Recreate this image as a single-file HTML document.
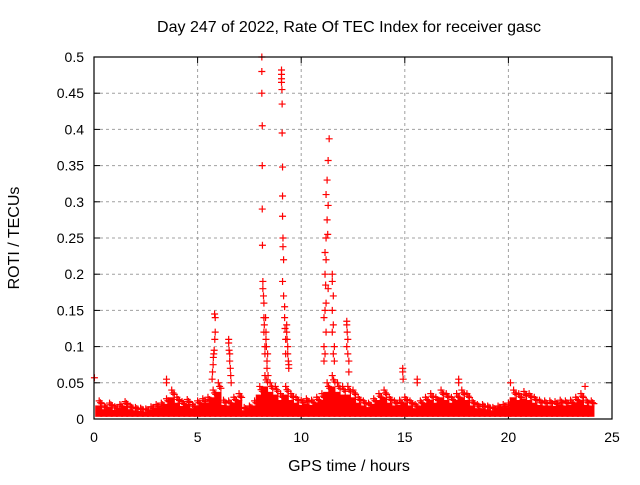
<!DOCTYPE html>
<html><head><meta charset="utf-8"><style>
html,body{margin:0;padding:0;background:#fff;}
svg text{font-family:"Liberation Sans",sans-serif;font-size:14px;fill:#000;}
svg text.big{font-size:16px;}
</style></head><body>
<svg id="chart" width="640" height="480">
<text class="big" x="349" y="32" text-anchor="middle">Day 247 of 2022, Rate Of TEC Index for receiver gasc</text>
<text class="big" x="349" y="471" text-anchor="middle">GPS time / hours</text>
<text class="big" x="19" y="238" text-anchor="middle" transform="rotate(-90 19 238)">ROTI / TECUs</text>
<g id="grid"></g><g id="ticks"></g><g id="marks"></g>
<rect x="94" y="57" width="518" height="362" fill="none" stroke="#000" stroke-width="1.2"/>
</svg>
<script>
const xTicks=[0,5,10,15,20,25];
const yTicks=[0,0.05,0.1,0.15,0.2,0.25,0.3,0.35,0.4,0.45,0.5];
const yTickLabels=["0","0.05","0.1","0.15","0.2","0.25","0.3","0.35","0.4","0.45","0.5"];
const bandStart=0.25, bandStep=0.25;
const bandMax=[.025,.018,.022,.017,.02,.024,.018,.016,.015,.014,.017,.02,.022,.028,.04,.03,.024,.027,.02,.025,.028,.03,.04,.05,.026,.025,.03,.035,.016,.018,.025,.045,.06,.05,.045,.035,.045,.035,.03,.026,.028,.026,.03,.035,.05,.06,.05,.045,.045,.04,.03,.025,.022,.028,.035,.04,.03,.025,.026,.03,.025,.02,.025,.03,.035,.03,.04,.035,.03,.035,.04,.035,.025,.02,.02,.018,.016,.018,.02,.022,.04,.035,.038,.035,.03,.026,.025,.025,.024,.026,.025,.026,.03,.035,.026,.025];
const spikeTimes=[0.02,3.5,3.5,5.82,5.85,5.85,5.83,5.8,5.78,5.76,5.75,5.72,5.7,6.5,6.5,6.52,6.55,6.55,6.58,6.6,6.62,
8.1,8.1,8.1,8.12,8.12,8.12,8.13,8.15,8.15,8.18,8.2,8.2,8.22,8.2,8.25,8.25,8.28,8.3,8.3,8.32,8.35,8.35,8.38,8.4,
9.05,9.05,9.05,9.05,9.07,9.08,9.08,9.1,9.1,9.1,9.12,9.12,9.15,9.1,9.15,9.2,9.2,9.22,9.25,9.25,9.3,9.3,9.32,9.35,9.35,9.38,9.4,9.4,
11.35,11.3,11.25,11.2,11.3,11.25,11.28,11.2,11.15,11.2,11.15,11.18,11.3,11.2,11.15,11.1,11.2,11.1,11.15,11.1,
11.5,11.5,11.55,11.5,11.55,11.5,11.6,11.55,11.6,12.2,12.2,12.22,12.25,12.2,12.25,12.3,12.3,14.9,14.9,14.92,15.6,15.6,17.6,17.6,20.1,23.7];
const spikeValues=[0.057,0.055,0.05,0.145,0.14,0.12,0.11,0.095,0.09,0.085,0.075,0.065,0.055,0.11,0.105,0.095,0.09,0.08,0.07,0.06,0.05,
0.5,0.48,0.45,0.405,0.35,0.29,0.24,0.19,0.18,0.17,0.16,0.14,0.13,0.12,0.1,0.09,0.14,0.12,0.11,0.1,0.08,0.07,0.09,0.06,
0.482,0.476,0.47,0.465,0.455,0.435,0.395,0.348,0.308,0.28,0.25,0.238,0.22,0.19,0.17,0.155,0.14,0.125,0.11,0.09,0.13,0.12,0.11,0.1,0.09,0.08,0.07,0.075,
0.387,0.357,0.33,0.31,0.295,0.275,0.255,0.25,0.23,0.22,0.2,0.185,0.18,0.16,0.15,0.14,0.12,0.1,0.09,0.08,
0.2,0.19,0.17,0.15,0.13,0.12,0.1,0.09,0.08,0.135,0.13,0.12,0.11,0.1,0.09,0.08,0.065,0.07,0.065,0.055,0.055,0.05,0.055,0.05,0.05,0.045];
const X0=94,X1=612,Y0=419,Y1=57;
const xs=t=>X0+(t/25)*(X1-X0);
const ys=v=>Y0-(v/0.5)*(Y0-Y1);
const NS="http://www.w3.org/2000/svg";
function mk(tag,parent,attrs){const e=document.createElementNS(NS,tag);for(const k in attrs)e.setAttribute(k,attrs[k]);parent.appendChild(e);return e;}
const grid=document.getElementById('grid'),ticks=document.getElementById('ticks'),marks=document.getElementById('marks');
xTicks.forEach(t=>{const x=xs(t);
 if(t>0&&t<25){const g=mk('line',grid,{x1:x,x2:x,y1:Y1,y2:Y0,stroke:'#a0a0a0','stroke-dasharray':'3,3'});
 
 }
 const tk=mk('line',ticks,{x1:x,x2:x,y1:Y0,y2:Y0-6,stroke:'#000'});
 
 
 const tk2=mk('line',ticks,{x1:x,x2:x,y1:Y1,y2:Y1+6,stroke:'#000'});
 
 
 const l=mk('text',ticks,{x:x,y:442,'text-anchor':'middle'});l.textContent=String(t);
 
 });
yTicks.forEach((v,i)=>{const y=ys(v);
 if(i>0&&i<yTicks.length-1){const g=mk('line',grid,{x1:X0,x2:X1,y1:y,y2:y,stroke:'#a0a0a0','stroke-dasharray':'3,3'});
 
 }
 const tk=mk('line',ticks,{x1:X0,x2:X0+6,y1:y,y2:y,stroke:'#000'});
 
 
 const tk2=mk('line',ticks,{x1:X1-6,x2:X1,y1:y,y2:y,stroke:'#000'});
 
 
 const l=mk('text',ticks,{x:84,y:y+5,'text-anchor':'end'});l.textContent=yTickLabels[i];
 
 });
function plus(t,v,name){const x=xs(t),y=ys(v);
 const p=mk('path',marks,{d:`M${x-3.5},${y}h7M${x},${y-3.5}v7`,stroke:'#f00','stroke-width':1.2});
 
 }
bandMax.forEach((m,i)=>{const t=bandStart+i*bandStep;const x=xs(t)-4;const w=xs(bandStep)-X0+2;
 const r=mk('rect',marks,{x:x,y:ys(m*0.75),width:w,height:ys(0.003)-ys(m*0.75),fill:'#f00'});
 
 
 plus(t,m,'roti-point');plus(t+bandStep/2,m*0.85,'roti-point');plus(t+bandStep/4,m*0.9,'roti-point');});
spikeTimes.forEach((t,i)=>plus(t,spikeValues[i],'roti-spike-point'));
</script>
</body></html>
